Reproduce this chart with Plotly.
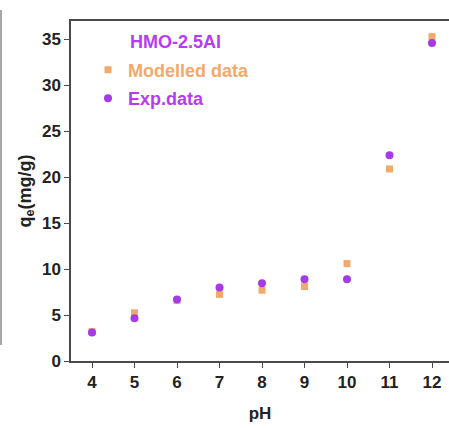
import plotly.graph_objects as go

ph = [4, 5, 6, 7, 8, 9, 10, 11, 12]
modelled = [3.2, 5.25, 6.6, 7.25, 7.7, 8.1, 10.6, 20.9, 35.3]
experimental = [3.1, 4.65, 6.7, 8.0, 8.45, 8.9, 8.9, 22.4, 34.6]
x_ticks = [4, 5, 6, 7, 8, 9, 10, 11, 12]
y_ticks = [0, 5, 10, 15, 20, 25, 30, 35]

ORANGE = "#F2A96A"
PURPLE = "#A43BE6"
TEXT_PURPLE = "#B63CF0"
AX = "#4a4a4a"

fig = go.Figure()
fig.add_trace(go.Scatter(
    x=ph, y=modelled, mode="markers", name="<span style='color:%s'>Modelled data</span>" % ORANGE,
    legendgroup="a",
    marker=dict(symbol="square", size=7, color=ORANGE)))
fig.add_trace(go.Scatter(
    x=ph, y=experimental, mode="markers", name="<span style='color:%s'>Exp.data</span>" % TEXT_PURPLE,
    legendgroup="b",
    marker=dict(symbol="circle", size=8, color=PURPLE)))

fig.update_layout(
    width=449, height=428,
    margin=dict(l=71, r=0, t=21, b=67),
    plot_bgcolor="white", paper_bgcolor="white",
    font=dict(family="Liberation Sans, Arial, sans-serif", size=14, color="#222"),
    showlegend=True,
    legend=dict(x=0.045, y=0.91, xanchor="left", yanchor="top",
                bgcolor="rgba(0,0,0,0)", font=dict(size=18, family="Liberation Sans, Arial", weight="bold"),
                traceorder="grouped", tracegroupgap=2),
    xaxis=dict(range=[3.506, 12.4], tickvals=x_ticks, ticks="outside", ticklen=5,
               tickcolor=AX, showline=True, linecolor=AX, linewidth=1.5, mirror=True,
               showgrid=False, zeroline=False,
               tickfont=dict(size=17, weight="bold", color="#222"),
               title=dict(text="<b>pH</b>", font=dict(size=17, color="#222"), standoff=16)),
    yaxis=dict(range=[0, 37], tickvals=y_ticks, ticks="outside", ticklen=5,
               tickcolor=AX, showline=True, linecolor=AX, linewidth=1.5, mirror=False,
               showgrid=False, zeroline=False,
               tickfont=dict(size=17, weight="bold", color="#222"),
               title=dict(text="<b>q<sub>e</sub>(mg/g)</b>", font=dict(size=18, color="#222"), standoff=6)),
)

fig.add_annotation(text="<b>HMO-2.5Al</b>", xref="paper", yref="paper",
                   x=(128 - 71) / 378, y=(361 - 42) / 340, xanchor="left", yanchor="middle",
                   showarrow=False, font=dict(size=18, color=TEXT_PURPLE))

fig.add_shape(type="line", xref="paper", yref="paper",
              x0=(1 - 71) / 378, x1=(1 - 71) / 378, y0=(361 - 10) / 340, y1=(361 - 345) / 340,
              line=dict(color="#888", width=1.5))

fig.write_html("out.html")
